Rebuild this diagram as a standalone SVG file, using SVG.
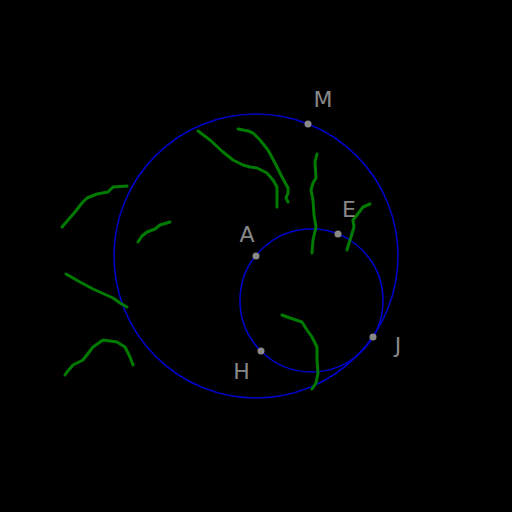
<svg xmlns="http://www.w3.org/2000/svg" width="512" height="512" viewBox="0 0 512 512">
<style>
.c{fill:none;stroke:#0000c8;stroke-width:1.6}
.g{fill:none;stroke:#007a00;stroke-width:3;stroke-linecap:round;stroke-linejoin:round}
.p{fill:#888}
.t{fill:#888;font-family:"DejaVu Sans",sans-serif;font-size:22px;text-anchor:middle}
</style>
<rect width="512" height="512" fill="#000"/>
<g id="circles">
<circle class="c" cx="256" cy="256" r="142"/>
<circle class="c" cx="311.5" cy="300.5" r="71.5"/>
</g>
<g id="strokes">
<polyline class="g" points="198,131 210,140 223,152 233,160 243,165 250,167 257,168 267,173 273,180 277,187 277,207"/>
<polyline class="g" points="238,129 248,131 253,133 260,140 268,150 275,163 282,177 288,188 288,193 286,198 288,202"/>
<polyline class="g" points="317,154 315,162 316,178 313,183 311,190 313,200 314,215 316,227 313,240 312,253"/>
<polyline class="g" points="370,204 363,207 357,215 353,220 354,227 351,237 349,243 347,250"/>
<polyline class="g" points="282,315 290,318 302,322 307,330 312,337 317,347 317,360 318,373 316,383 312,389"/>
<polyline class="g" points="127,186 113,187 108,192 97,194 87,198 82,203 75,212 62,227"/>
<polyline class="g" points="170,222 160,225 155,229 147,232 142,236 138,242"/>
<polyline class="g" points="66,274 80,282 93,289 102,293 113,298 120,303 127,307"/>
<polyline class="g" points="133,365 130,357 125,347 117,342 103,340 93,347 83,360 73,365 67,372 65,375"/>
</g>
<g id="M"><circle class="p" cx="308" cy="124" r="3.5"/><text class="t" x="323" y="107">M</text></g>
<g id="A"><circle class="p" cx="256" cy="256" r="3.5"/><text class="t" x="247" y="242">A</text></g>
<g id="E"><circle class="p" cx="338" cy="234" r="3.5"/><text class="t" x="349" y="217">E</text></g>
<g id="J"><circle class="p" cx="373" cy="337" r="3.5"/><text class="t" x="398" y="353">J</text></g>
<g id="H"><circle class="p" cx="261" cy="351" r="3.5"/><text class="t" x="241.5" y="379">H</text></g>
</svg>
